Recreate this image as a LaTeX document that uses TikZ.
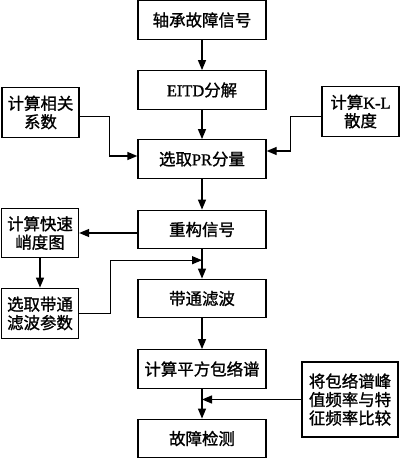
\documentclass[tikz,border=0pt]{standalone}
\usepackage{fontspec}
\setmainfont{Liberation Serif}
\newfontfamily\cjk[FakeBold=1.2]{Noto Sans CJK SC}
\usetikzlibrary{arrows.meta,calc}
\tikzset{
  box/.style={draw,line width=1.3bp,inner sep=0pt,align=center,font=\fontsize{16.5}{18.5}\selectfont\cjk},
  mainbox/.style={box,minimum width=128bp,minimum height=38.5bp},
  sidebox/.style={box,minimum width=77bp,minimum height=49.5bp},
  arr/.style={line width=1.3bp,-{Triangle[length=10bp,width=8bp]}}
}
\newcommand{\lt}[1]{{\fontspec[FakeBold=1]{Liberation Serif}#1}}
\begin{document}
\begin{tikzpicture}[x=1bp,y=-1bp]
\useasboundingbox (0,0) rectangle (400,459);
\node[mainbox] (b1) at (202,20) {轴承故障信号};
\node[mainbox] (b2) at (202,90) {\lt{EITD}分解};
\node[mainbox] (b3) at (202,159) {选取\lt{PR}分量};
\node[mainbox] (b4) at (202,229.5) {重构信号};
\node[mainbox] (b5) at (202,298.5) {带通滤波};
\node[mainbox] (b6) at (202,369) {计算平方包络谱};
\node[mainbox] (b7) at (202,438.5) {故障检测};
\node[sidebox] (l1) at (40.5,112.5) {计算相关\\系数};
\node[sidebox] (r1) at (360.5,111.5) {计算\lt{K-L}\\散度};
\node[sidebox] (l2) at (40,233) {计算快速\\峭度图};
\node[sidebox,minimum height=50.5bp] (l3) at (40,313.5) {选取带通\\滤波参数};
\node[box,minimum width=96bp,minimum height=75bp] (r2) at (350,399.5) {将包络谱峰\\值频率与特\\征频率比较};
\coordinate (j1) at ($(b4.south)!0.37!(b5.north)$);
\draw[arr] (b1) -- (b2);
\draw[arr] (b2) -- (b3);
\draw[arr] ([yshift=-4bp]l1.east) -- ++(30,0) |- ([yshift=3bp]b3.west);
\draw[arr] ([yshift=-5bp]r1.west) -- ++(-31,0) |- ([yshift=8bp]b3.east);
\draw[arr] (b3) -- (b4);
\draw[arr] (b4.west |- l2.east) -- (l2.east);
\draw[arr] (l2) -- (l3);
\draw[arr] (l3.east) -- ++(31,0) |- (j1);
\draw[arr] (b4) -- (b5);
\draw[arr] (b5) -- (b6);
\draw[arr] (b6) -- (b7);
\draw[arr] (r2.west) -- (r2.west -| b6.south);
\end{tikzpicture}
\end{document}
